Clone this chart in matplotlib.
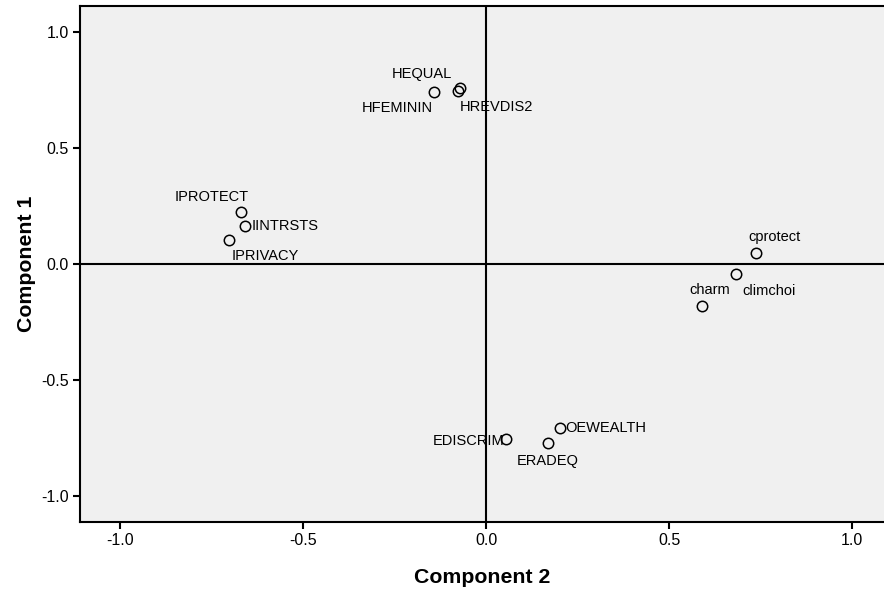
import matplotlib
matplotlib.use("Agg")
import matplotlib.pyplot as plt

plt.rcParams['font.family'] = ['Liberation Sans', 'DejaVu Sans']

names = ["HEQUAL", "HREVDIS2", "HFEMININ", "IPROTECT", "IINTRSTS", "IPRIVACY",
         "cprotect", "climchoi", "charm", "OEWEALTH", "EDISCRIM", "ERADEQ"]
comp2 = [-0.071, -0.077, -0.142, -0.669, -0.658, -0.702,
         0.738, 0.683, 0.590, 0.202, 0.055, 0.169]
comp1 = [0.759, 0.746, 0.741, 0.224, 0.164, 0.103,
         0.047, -0.043, -0.181, -0.707, -0.754, -0.772]
xticks = [-1.0, -0.5, 0.0, 0.5, 1.0]
yticks = [-1.0, -0.5, 0.0, 0.5, 1.0]

# label placement (pixel offsets, alignment)
offsets = {
    "HEQUAL": (-38, 14, 'center'),
    "HREVDIS2": (39, -16, 'center'),
    "HFEMININ": (-37, -16, 'center'),
    "IPROTECT": (-29, 15, 'center'),
    "IINTRSTS": (7, 0, 'left'),
    "IPRIVACY": (36, -16, 'center'),
    "cprotect": (18, 16, 'center'),
    "climchoi": (33, -17, 'center'),
    "charm": (8, 16, 'center'),
    "OEWEALTH": (5, 0, 'left'),
    "EDISCRIM": (-2, -2, 'right'),
    "ERADEQ": (0, -18, 'center'),
}

fig = plt.figure(figsize=(8.84, 5.94), dpi=100)
ax = fig.add_axes([80/884, 72/594, 1 - 80/884, 516/594])
ax.set_facecolor('#f0f0f0')
ax.set_xlim(-1.109, 1.087)
ax.set_ylim(-1.112, 1.112)

ax.axhline(0, color='black', lw=1.5, zorder=1)
ax.axvline(0, color='black', lw=1.5, zorder=1)

ax.plot(comp2, comp1, 'o', ms=7.5, mfc='none', mec='black', mew=1.1, zorder=3)
for n, x, y in zip(names, comp2, comp1):
    dx, dy, ha = offsets[n]
    ax.annotate(n, (x, y), xytext=(dx, dy), textcoords='offset pixels',
                ha=ha, va='center', fontsize=10.5, color='black')

ax.set_xticks(xticks)
ax.set_yticks(yticks)
ax.set_xticklabels([f"{t:.1f}" for t in xticks])
ax.set_yticklabels([f"{t:.1f}" for t in yticks])
ax.tick_params(direction='out', length=5, width=1.5, labelsize=11.5, pad=3)
for s in ['left', 'top', 'bottom']:
    ax.spines[s].set_linewidth(1.5)
ax.spines['right'].set_visible(False)

ax.set_xlabel("Component 2", fontsize=15.3, fontweight='bold', labelpad=14)
ax.set_ylabel("Component 1", fontsize=15.3, fontweight='bold', labelpad=4)

fig.savefig("out.png", dpi=100)
